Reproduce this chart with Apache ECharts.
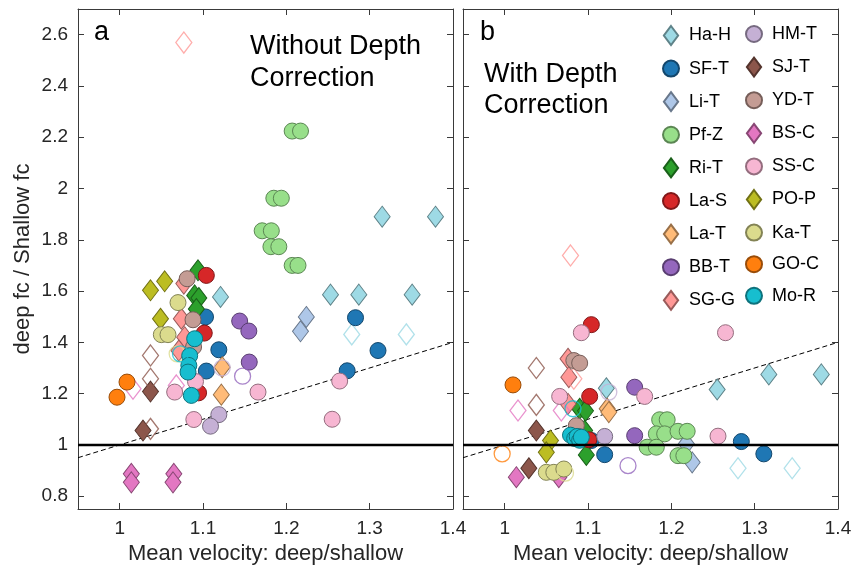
<!DOCTYPE html>
<html>
<head>
<meta charset="utf-8">
<script src="https://cdn.jsdelivr.net/npm/echarts@6/dist/echarts.min.js"></script>
<style>
  html, body { margin: 0; padding: 0; background: #fff; }
  #main { width: 858px; height: 573px; }
</style>
</head>
<body>
<div id="main"></div>
<script>
// tick labels
var xTicks = [1, 1.1, 1.2, 1.3, 1.4];
var yTicks = [0.8, 1, 1.2, 1.4, 1.6, 1.8, 2, 2.2, 2.4, 2.6];

// legend columns
var legendCol1 = ['Ha-H', 'SF-T', 'Li-T', 'Pf-Z', 'Ri-T', 'La-S', 'La-T', 'BB-T', 'SG-G'];
var legendCol2 = ['HM-T', 'SJ-T', 'YD-T', 'BS-C', 'SS-C', 'PO-P', 'Ka-T', 'GO-C', 'Mo-R'];

// [velocity ratio, fc ratio]; a = without depth correction, b = with; *Open = hollow markers
var haH = { a: [[1.253, 1.586], [1.287, 1.586], [1.351, 1.586], [1.315, 1.89], [1.379, 1.89], [1.121, 1.577]],
            aOpen: [[1.2785, 1.431], [1.344, 1.431]],
            b: [[1.255, 1.216], [1.317, 1.275], [1.380, 1.275], [1.122, 1.221]],
            bOpen: [[1.28, 0.909], [1.345, 0.909]] };
var sfT = { a: [[1.283, 1.496], [1.31, 1.368], [1.273, 1.289], [1.103, 1.499], [1.119, 1.371], [1.104, 1.288]],
            b: [[1.284, 1.013], [1.311, 0.965], [1.12, 0.962], [1.104, 1.017]] };
var liT = { a: [[1.224, 1.499], [1.217, 1.443]],
            b: [[1.218, 1.004], [1.225, 0.932]] };
var pfZ = { a: [[1.207, 2.224], [1.217, 2.224], [1.185, 1.962], [1.194, 1.962], [1.171, 1.835], [1.182, 1.835],
                [1.1815, 1.773], [1.191, 1.773], [1.207, 1.70], [1.214, 1.70]],
            b: [[1.186, 1.098], [1.195, 1.098], [1.182, 1.043], [1.192, 1.043], [1.208, 1.053], [1.219, 1.053],
                [1.171, 0.991], [1.182, 0.991], [1.208, 0.958], [1.215, 0.958]] };
var riT = { a: [[1.094, 1.681], [1.090, 1.583], [1.095, 1.573], [1.092, 1.53]],
            b: [[1.090, 1.141], [1.097, 1.133], [1.096, 1.056], [1.098, 0.961]] };
var laS = { a: [[1.104, 1.661], [1.1015, 1.436], [1.0947, 1.203]],
            b: [[1.104, 1.469], [1.102, 1.189], [1.101, 1.02]] };
var laT = { a: [[1.123, 1.303], [1.122, 1.196]],
            b: [[1.123, 1.141], [1.125, 1.128]] };
var bbT = { a: [[1.144, 1.483], [1.155, 1.444], [1.1555, 1.323]],
            aOpen: [[1.1475, 1.268]],
            b: [[1.156, 1.225], [1.156, 1.036]],
            bOpen: [[1.148, 0.919]] };
var sgG = { a: [[1.077, 1.629], [1.074, 1.492], [1.078, 1.42], [1.071, 1.368]],
            aOpen: [[1.077, 2.569]],
            b: [[1.076, 1.336], [1.077, 1.264], [1.076, 1.16]],
            bOpen: [[1.079, 1.739], [1.083, 1.258]] };
var hmT = { a: [[1.119, 1.118], [1.109, 1.073]],
            aOpen: [[1.123, 1.30]],
            b: [[1.12, 1.033]],
            bOpen: [[1.125, 1.206]] };
var sjT = { a: [[1.037, 1.208], [1.028, 1.056]],
            aOpen: [[1.037, 1.349], [1.037, 1.258], [1.037, 1.0625]],
            b: [[1.038, 1.056], [1.029, 0.909]],
            bOpen: [[1.038, 1.30], [1.038, 1.156]] };
var ydT = { a: [[1.081, 1.648], [1.088, 1.488], [1.0887, 1.382]],
            b: [[1.083, 1.329], [1.09, 1.319], [1.086, 1.075]] };
var bsC = { a: [[1.014, 0.887], [1.014, 0.854], [1.065, 0.887], [1.064, 0.854]],
            aOpen: [[1.016, 1.219], [1.068, 1.232]],
            b: [[1.014, 0.874], [1.065, 0.874]],
            bOpen: [[1.016, 1.134], [1.068, 1.134]] };
var ssC = { a: [[1.091, 1.247], [1.066, 1.206], [1.166, 1.206], [1.089, 1.099], [1.264, 1.249], [1.255, 1.10]],
            b: [[1.092, 1.4375], [1.265, 1.4375], [1.256, 1.034], [1.066, 1.189], [1.09, 1.033], [1.168, 1.189]] };
var poP = { a: [[1.037, 1.603], [1.054, 1.638], [1.049, 1.492]],
            b: [[1.055, 1.017], [1.05, 0.971]] };
var kaT = { a: [[1.07, 1.555], [1.05, 1.43], [1.058, 1.43]],
            aOpen: [[1.069, 1.355]],
            b: [[1.05, 0.893], [1.059, 0.893], [1.071, 0.906]],
            bOpen: [[1.073, 0.89]] };
var goC = { a: [[1.0088, 1.245], [0.9968, 1.186]],
            b: [[1.01, 1.234]],
            bOpen: [[0.997, 0.965]] };
var moR = { a: [[1.090, 1.414], [1.084, 1.348], [1.083, 1.31], [1.082, 1.284], [1.086, 1.193]],
            aOpen: [[1.073, 1.355]],
            b: [[1.079, 1.038], [1.084, 1.025], [1.087, 1.033], [1.090, 1.018], [1.092, 1.03]],
            bOpen: [[1.082, 1.141]] };

// reference lines
var oneToOne = [[0.95, 0.95], [1.4, 1.4]];
var unity = [[0.95, 1], [1.4, 1]];

var DIAMOND = 'path://M0,-10L7.5,0L0,10L-7.5,0Z';
var FONT = '"Liberation Sans", Arial, Helvetica, sans-serif';

var sites = [
  ['Ha-H', haH, '#9edae5', 'd'], ['SF-T', sfT, '#1f77b4', 'o'], ['Li-T', liT, '#aec7e8', 'd'],
  ['Pf-Z', pfZ, '#98df8a', 'o'], ['Ri-T', riT, '#2ca02c', 'd'], ['La-S', laS, '#d62728', 'o'],
  ['La-T', laT, '#ffbb78', 'd'], ['BB-T', bbT, '#9467bd', 'o'], ['SG-G', sgG, '#ff9896', 'd'],
  ['HM-T', hmT, '#c5b0d5', 'o'], ['SJ-T', sjT, '#8c564b', 'd'], ['YD-T', ydT, '#c49c94', 'o'],
  ['BS-C', bsC, '#e377c2', 'd'], ['SS-C', ssC, '#f7b6d2', 'o'], ['PO-P', poP, '#bcbd22', 'd'],
  ['Ka-T', kaT, '#dbdb8d', 'o'], ['GO-C', goC, '#ff7f0e', 'o'], ['Mo-R', moR, '#17becf', 'o']
];

function darker(hex, f) {
  var n = parseInt(hex.slice(1), 16);
  var r = Math.round(((n >> 16) & 255) * f);
  var g = Math.round(((n >> 8) & 255) * f);
  var b = Math.round((n & 255) * f);
  return 'rgb(' + r + ',' + g + ',' + b + ')';
}

var series = [];
sites.forEach(function (s) {
  var name = s[0], d = s[1], col = s[2], isD = s[3] === 'd';
  var sym = isD ? DIAMOND : 'circle';
  var size = isD ? [16, 21] : 16;
  [['a', 0], ['b', 1]].forEach(function (p) {
    if (d[p[0]]) {
      series.push({
        name: name, type: 'scatter', xAxisIndex: p[1], yAxisIndex: p[1],
        symbol: sym, symbolSize: size, data: d[p[0]], z: 3,
        itemStyle: { color: col, borderColor: darker(col, 0.6), borderWidth: 1, opacity: 1 },
        emphasis: { disabled: true }
      });
    }
    if (d[p[0] + 'Open']) {
      series.push({
        name: name + ' open', type: 'scatter', xAxisIndex: p[1], yAxisIndex: p[1],
        symbol: sym, symbolSize: size, data: d[p[0] + 'Open'], z: 3,
        itemStyle: { color: 'rgba(255,255,255,0)', borderColor: col, borderWidth: 1.3 },
        emphasis: { disabled: true }
      });
    }
  });
});

[0, 1].forEach(function (i) {
  series.push({
    type: 'line', xAxisIndex: i, yAxisIndex: i, data: oneToOne, symbol: 'none', z: 2,
    lineStyle: { color: '#000', width: 1, type: [5, 3] }, silent: true
  });
  series.push({
    type: 'line', xAxisIndex: i, yAxisIndex: i, data: unity, symbol: 'none', z: 5,
    lineStyle: { color: '#000', width: 2.5 }, silent: true
  });
});

function xAxis(grid, top) {
  return {
    type: 'value', gridIndex: grid, min: 0.95, max: 1.4, position: top ? 'top' : 'bottom',
    axisLine: { show: true, onZero: false, lineStyle: { color: '#3a3a3a', width: 1 } },
    axisTick: { show: true, inside: true, length: 6, customValues: xTicks, lineStyle: { color: '#3a3a3a' } },
    axisLabel: { show: !top, customValues: xTicks, fontSize: 19, color: '#262626', margin: 10, fontFamily: FONT },
    splitLine: { show: false },
    name: top ? '' : 'Mean velocity: deep/shallow', nameLocation: 'middle', nameGap: 34,
    nameTextStyle: { fontSize: 22, color: '#262626', fontFamily: FONT }
  };
}
function yAxis(grid, right, labels) {
  return {
    type: 'value', gridIndex: grid, min: 0.75, max: 2.7, position: right ? 'right' : 'left',
    axisLine: { show: true, onZero: false, lineStyle: { color: '#3a3a3a', width: 1 } },
    axisTick: { show: true, inside: true, length: 6, customValues: yTicks, lineStyle: { color: '#3a3a3a' } },
    axisLabel: { show: labels, customValues: yTicks, fontSize: 19, color: '#262626', margin: 10, fontFamily: FONT },
    splitLine: { show: false },
    name: labels ? 'deep fc / Shallow fc' : '', nameLocation: 'middle', nameGap: 44, nameRotate: 90,
    nameTextStyle: { fontSize: 22, color: '#262626', fontFamily: FONT }
  };
}

function legendItems(list) {
  return list.map(function (n) {
    var isD = sites.filter(function (s) { return s[0] === n; })[0][3] === 'd';
    return { name: n, icon: isD ? DIAMOND : 'circle' };
  });
}
function legend(left, list) {
  return {
    orient: 'vertical', left: left, top: 25, padding: 0, itemGap: 13.6,
    itemWidth: 16, itemHeight: 19, selectedMode: false, data: legendItems(list),
    textStyle: { fontSize: 18, color: '#000', fontFamily: FONT, padding: [0, 0, 0, 5] }
  };
}

function label(x, y, text) {
  return { type: 'text', left: x, top: y, style: { text: text, fill: '#000', font: '27px ' + FONT } };
}

var chart = echarts.init(document.getElementById('main'));
chart.setOption({
  animation: false,
  backgroundColor: '#fff',
  grid: [
    { left: 78, top: 9, width: 375, height: 500 },
    { left: 463, top: 9, width: 375, height: 500 }
  ],
  xAxis: [xAxis(0, false), xAxis(1, false), xAxis(0, true), xAxis(1, true)],
  yAxis: [yAxis(0, false, true), yAxis(1, false, false), yAxis(0, true, false), yAxis(1, true, false)],
  legend: [legend(662, legendCol1), legend(745, legendCol2)],
  graphic: [
    label(94, 19, 'a'),
    label(250, 33, 'Without Depth'),
    label(250, 65, 'Correction'),
    label(480, 19, 'b'),
    label(484, 61, 'With Depth'),
    label(484, 92, 'Correction')
  ],
  series: series
});
</script>
</body>
</html>
